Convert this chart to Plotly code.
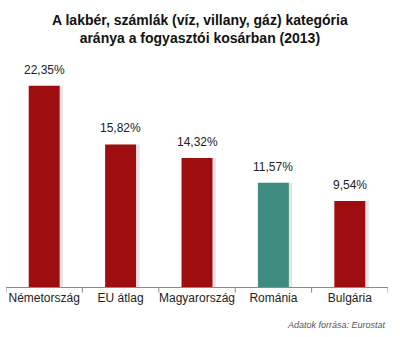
import plotly.graph_objects as go

categories = ["Németország", "EU átlag", "Magyarország", "Románia", "Bulgária"]
values = [22.35, 15.82, 14.32, 11.57, 9.54]
labels = ["22,35%", "15,82%", "14,32%", "11,57%", "9,54%"]
colors = ["#9E0D0F", "#9E0D0F", "#9E0D0F", "#3E8C80", "#9E0D0F"]

x = list(range(len(categories)))
bar_w = 0.405

fig = go.Figure()
# soft drop shadow to the right of each bar
fig.add_trace(go.Bar(
    x=x, y=values, width=bar_w, offset=-bar_w / 2 + 0.045,
    marker=dict(color="rgba(0,0,0,0.10)", line=dict(width=0)),
    hoverinfo="skip", showlegend=False,
))
fig.add_trace(go.Bar(
    x=x, y=values, width=bar_w, offset=-bar_w / 2,
    marker=dict(color=colors, line=dict(width=0)),
    showlegend=False,
))

# value labels above the bars
value_notes = [
    dict(text=lab, x=xi, y=v, xref="x", yref="y", xanchor="center", yanchor="bottom",
         yshift=7, showarrow=False,
         font=dict(family="Arial, Liberation Sans", size=12, color="#222222"))
    for xi, v, lab in zip(x, values, labels)
]

fig.update_layout(
    width=400, height=337,
    barmode="overlay",
    paper_bgcolor="white", plot_bgcolor="white",
    margin=dict(l=5.5, r=12, t=60, b=50),
    xaxis=dict(
        tickmode="array", tickvals=x, ticktext=categories,
        range=[-0.5, 4.5], showgrid=False, zeroline=False,
        showline=True, linecolor="#8a8a8a", linewidth=1,
        ticks="", tickfont=dict(family="Arial, Liberation Sans", size=12, color="#222222"),
    ),
    yaxis=dict(range=[0, 25.2], visible=False, showgrid=False, zeroline=False),
    annotations=value_notes + [
        dict(
            text="<b>A lakbér, számlák (víz, villany, gáz) kategória<br>aránya a fogyasztói kosárban (2013)</b>",
            xref="paper", yref="paper", x=0.508, y=1.137,
            xanchor="center", yanchor="middle", showarrow=False,
            font=dict(family="Arial, Liberation Sans", size=14, color="#111111"),
        ),
        dict(
            text="<i>Adatok forrása: Eurostat</i>", xref="paper", yref="paper",
            x=1.0, y=-0.135, xanchor="right", yanchor="top", showarrow=False,
            font=dict(family="Arial, Liberation Sans", size=9, color="#555555"),
        ),
    ],
)

# category separator ticks along the baseline
for b in [-0.5, 0.5, 1.5, 2.5, 3.5, 4.5]:
    fig.add_shape(type="line", xref="x", yref="paper", x0=b, x1=b, y0=0, y1=-0.025,
                  line=dict(color="#8a8a8a", width=1))

fig.write_html("out.html")
